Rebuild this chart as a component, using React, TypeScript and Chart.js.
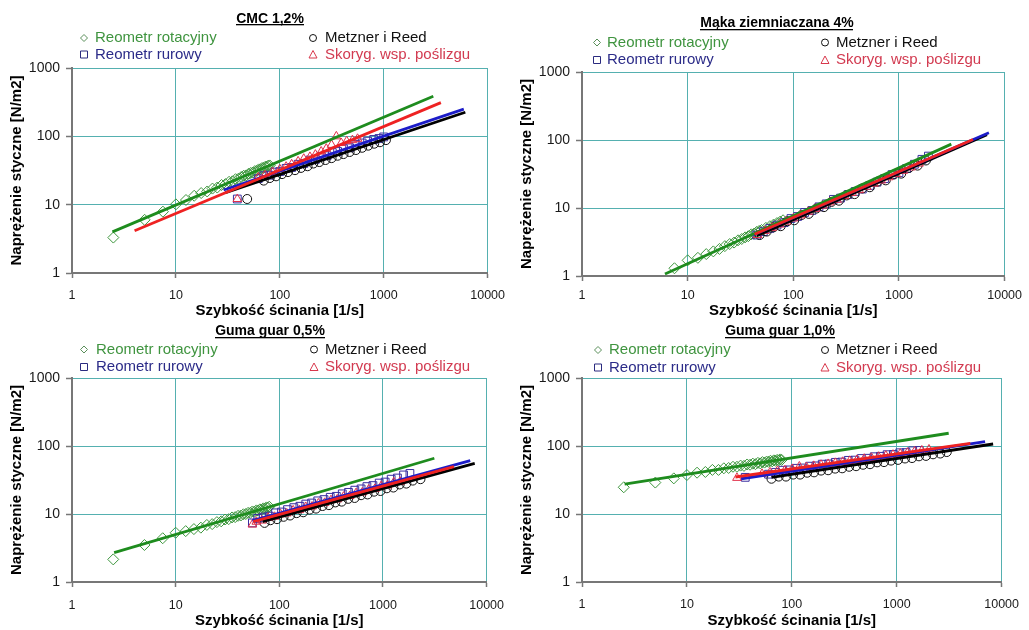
import React, { useEffect, useRef } from 'react';
import { Chart, registerables } from 'chart.js';

Chart.register(...registerables);

// ---------- shared text / ticks ----------
const xTickValues = [1, 10, 100, 1000, 10000];
const yTickValues = [1, 10, 100, 1000];
const seriesLabels = ['Reometr rotacyjny', 'Reometr rurowy', 'Metzner i Reed', 'Skoryg. wsp. poślizgu'];
const panelTitles = ['CMC 1,2%', 'Mąka ziemniaczana 4%', 'Guma guar 0,5%', 'Guma guar 1,0%'];
const xAxisTitle = 'Szybkość ścinania [1/s]';
const yAxisTitle = 'Naprężenie styczne [N/m2]';

// rotational rheometer shear rates (panels 1, 3, 4)
const rotRates = [2.5, 5, 7.5, 10, 12.5, 15, 17.5, 20, 22.5, 25, 27.5, 30, 32.5, 35, 37.5, 40, 42.5, 45, 47.5, 50, 52.5, 55, 57.5, 60, 62.5, 65, 67.5, 70, 72.5, 75, 77.5, 80];

// ---------- Panel 1: CMC 1,2% ----------
const cmcRotStress = [3.3, 6.0, 7.9, 10.1, 11.7, 13.5, 14.8, 15.6, 17.2, 17.8, 19.4, 20.0, 21.6, 22.0, 23.6, 24.0, 25.4, 26.5, 26.8, 28.3, 29.1, 29.5, 31.0, 31.2, 32.8, 33.0, 34.4, 34.5, 35.9, 36.0, 37.3, 37.5];
const cmcTubeRate = [39, 62, 70, 80, 90, 100, 115, 130, 150, 170, 195, 220, 250, 285, 320, 360, 410, 470, 540, 620, 700, 800, 900, 1000];
const cmcTubeStress = [12.1, 24, 26.5, 27, 30, 30.5, 34, 35, 39, 40, 45, 46, 51, 52, 58, 60, 66, 68, 76, 80, 85, 90, 93, 98];
const cmcMRRate = [48.5, 70, 80, 92, 105, 120, 140, 160, 185, 210, 240, 275, 315, 360, 410, 470, 540, 620, 710, 810, 920, 1050];
const cmcMRStress = [12.1, 22.5, 24.5, 26, 28, 30, 32, 34.5, 36.5, 40, 42, 45, 48, 52, 55, 59, 63, 68, 73, 78, 82, 88];
const cmcSlipRate = [39, 62, 72, 85, 100, 115, 130, 150, 170, 195, 220, 250, 280, 315, 350, 390, 440, 500, 560];
const cmcSlipStress = [12.1, 25, 27, 30, 33, 36, 39, 43, 47, 50, 54, 60, 66, 75, 100, 80, 85, 88, 92];
const cmcRotFitRate = [2.45, 3000];
const cmcRotFitStress = [4.0, 385];
const cmcTubeFitRate = [28.8, 5900];
const cmcTubeFitStress = [16.4, 250];
const cmcMRFitRate = [30, 6100];
const cmcMRFitStress = [15, 225];
const cmcSlipFitRate = [4, 3550];
const cmcSlipFitStress = [4.16, 311];

// ---------- Panel 2: Mąka ziemniaczana 4% ----------
const makaRotRate = [7.5, 10, 12.5, 15, 17.5, 20, 22.5, 25, 27.5, 30, 32.5, 35, 37.5, 40, 42.5, 45, 47.5, 50, 55, 60, 65, 70, 75, 80];
const makaRotStress = [1.3, 1.7, 1.85, 2.1, 2.3, 2.5, 2.75, 2.95, 3.1, 3.35, 3.5, 3.7, 3.85, 4.1, 4.2, 4.45, 4.6, 4.75, 5.1, 5.4, 5.7, 6.0, 6.3, 6.6];
const makaTubeRate = [45, 52, 60, 70, 82, 95, 110, 128, 150, 175, 205, 240, 280, 330, 385, 450, 530, 620, 730, 860, 1000, 1180, 1400, 1650, 1900];
const makaTubeStress = [4.0, 4.5, 5.0, 5.6, 6.1, 7.0, 7.5, 8.6, 9.2, 10.4, 11.5, 13.4, 14.0, 15.8, 17.5, 19.0, 21.5, 24, 27, 31, 33, 38, 44, 52, 58];
const makaMRRate = [48, 56, 65, 76, 88, 102, 120, 140, 165, 195, 230, 270, 320, 380, 450, 530, 630, 750, 890, 1050, 1250, 1500, 1800];
const makaMRStress = [4.0, 4.5, 5.2, 5.4, 6.4, 6.6, 7.9, 8.2, 9.8, 10.3, 12.3, 12.8, 15.3, 16.0, 19.4, 20.2, 24.5, 25.5, 31, 32, 39, 42, 50];
const makaSlipRate = [46, 54, 63, 74, 86, 100, 118, 138, 162, 190, 222, 260, 305, 360, 420, 495, 580, 680, 800, 940, 1100, 1300, 1550];
const makaSlipStress = [4.0, 4.6, 5.1, 5.7, 6.3, 7.0, 7.8, 8.8, 9.7, 10.8, 12.1, 13.2, 15.0, 16.6, 18.3, 20.5, 22.8, 25.4, 28.3, 31.5, 35.2, 39.5, 45];
const makaRotFitRate = [6.1, 3130];
const makaRotFitStress = [1.07, 87];
const makaTubeFitRate = [41.7, 7100];
const makaTubeFitStress = [4.0, 128];
const makaMRFitRate = [45, 6800];
const makaMRFitStress = [3.9, 120];
const makaSlipFitRate = [43, 5020];
const makaSlipFitStress = [4.1, 102];

// ---------- Panel 3: Guma guar 0,5% ----------
const guar05RotStress = [2.15, 3.5, 4.4, 5.3, 5.6, 6.0, 6.3, 6.9, 7.1, 7.6, 7.8, 8.3, 8.4, 8.9, 9.0, 9.4, 9.5, 9.9, 10.0, 10.4, 10.4, 10.9, 10.8, 11.3, 11.2, 11.7, 11.6, 12.1, 12.0, 12.5, 12.4, 12.8];
const guar05TubeRate = [55, 62, 70, 80, 92, 105, 120, 138, 158, 180, 205, 235, 270, 310, 355, 405, 465, 535, 615, 700, 800, 920, 1050, 1200, 1380, 1580, 1820];
const guar05TubeStress = [7.4, 8.6, 9.0, 9.3, 10.4, 10.7, 11.6, 12.4, 13.0, 14.0, 14.5, 15.6, 16.3, 17.6, 18.2, 19.8, 20.8, 22.4, 23.4, 25.3, 26.2, 28.5, 29.5, 32.5, 33.8, 37.5, 39.5];
const guar05MRRate = [72, 82, 95, 110, 127, 147, 170, 196, 226, 261, 301, 347, 400, 462, 533, 615, 710, 820, 946, 1090, 1260, 1450, 1680, 1940, 2300];
const guar05MRStress = [7.4, 8.1, 8.4, 9.1, 9.5, 10.3, 10.6, 11.6, 12.0, 13.1, 13.5, 14.8, 15.2, 16.7, 17.2, 18.9, 19.4, 21.3, 21.8, 23.9, 24.5, 27.2, 28.0, 31.0, 32.5];
const guar05SlipRate = [55, 60, 68, 78, 90, 103, 118, 136, 156, 180, 207, 238, 274, 315, 362, 416, 478, 550, 632, 727, 836, 961, 1105, 1270, 1460];
const guar05SlipStress = [7.0, 7.7, 8.0, 8.8, 9.1, 9.9, 10.2, 11.3, 11.4, 12.7, 12.9, 14.3, 14.6, 16.0, 16.4, 18.0, 18.4, 20.3, 20.8, 22.9, 23.4, 25.8, 26.3, 29.2, 29.8];
const guar05RotFitRate = [2.55, 3130];
const guar05RotFitStress = [2.7, 66];
const guar05TubeFitRate = [55, 6950];
const guar05TubeFitStress = [8.0, 61];
const guar05MRFitRate = [69, 7680];
const guar05MRFitStress = [7.7, 55.6];
const guar05SlipFitRate = [56, 4840];
const guar05SlipFitStress = [7.7, 49.6];

// ---------- Panel 4: Guma guar 1,0% ----------
const guar10RotStress = [24.7, 29, 33.4, 37.4, 40.5, 41.5, 44.5, 44.5, 47, 47.5, 49.5, 49.5, 51.5, 51, 53.5, 53, 55, 54, 56.5, 55.5, 58, 57, 59, 58.5, 60.5, 59.5, 61.5, 60.5, 62.5, 61.5, 63.5, 62.5];
const guar10TubeRate = [36, 60, 70, 82, 95, 110, 128, 148, 170, 195, 225, 260, 300, 345, 400, 460, 530, 610, 700, 810, 930, 1070, 1230, 1420, 1640];
const guar10TubeStress = [34.6, 38.5, 41, 44, 44.5, 47, 47.5, 50.5, 51, 54, 54.5, 57.5, 58, 61.5, 62, 65.5, 66, 69.5, 70.5, 74.5, 75, 79.5, 80, 85, 86];
const guar10MRRate = [64, 75, 88, 103, 120, 140, 163, 190, 222, 259, 302, 352, 410, 478, 557, 650, 757, 883, 1030, 1200, 1400, 1630, 1900, 2220, 2600, 3000];
const guar10MRStress = [33, 35.5, 35.5, 38, 38, 40.5, 41, 43.5, 44, 46.5, 47, 49.5, 50.5, 53, 54, 57.5, 58, 61, 62.5, 65.5, 66.5, 70.5, 71.5, 75.5, 77.5, 81.5];
const guar10SlipRate = [30, 52, 62, 73, 86, 101, 118, 138, 162, 190, 222, 260, 305, 357, 418, 490, 574, 672, 787, 922, 1080, 1265, 1480, 1735, 2030];
const guar10SlipStress = [34, 39, 41, 43, 44, 46, 50, 49, 51, 53, 54.5, 56.5, 58.5, 60.5, 62.5, 65, 67, 69.5, 72, 74.5, 77, 80, 83, 86, 89];
const guar10RotFitRate = [2.55, 3130];
const guar10RotFitStress = [27.6, 154];
const guar10TubeFitRate = [33, 6950];
const guar10TubeFitStress = [33, 116];
const guar10MRFitRate = [64, 8300];
const guar10MRFitStress = [34.6, 107];
const guar10SlipFitRate = [29, 5030];
const guar10SlipFitStress = [35, 109];

type XY = [number[], number[]];
interface PanelData {
  rot: XY; tube: XY; mr: XY; slip: XY;
  rotFit: XY; tubeFit: XY; mrFit: XY; slipFit: XY;
}

const PANELS: PanelData[] = [
  {
    rot: [rotRates, cmcRotStress], tube: [cmcTubeRate, cmcTubeStress], mr: [cmcMRRate, cmcMRStress], slip: [cmcSlipRate, cmcSlipStress],
    rotFit: [cmcRotFitRate, cmcRotFitStress], tubeFit: [cmcTubeFitRate, cmcTubeFitStress], mrFit: [cmcMRFitRate, cmcMRFitStress], slipFit: [cmcSlipFitRate, cmcSlipFitStress],
  },
  {
    rot: [makaRotRate, makaRotStress], tube: [makaTubeRate, makaTubeStress], mr: [makaMRRate, makaMRStress], slip: [makaSlipRate, makaSlipStress],
    rotFit: [makaRotFitRate, makaRotFitStress], tubeFit: [makaTubeFitRate, makaTubeFitStress], mrFit: [makaMRFitRate, makaMRFitStress], slipFit: [makaSlipFitRate, makaSlipFitStress],
  },
  {
    rot: [rotRates, guar05RotStress], tube: [guar05TubeRate, guar05TubeStress], mr: [guar05MRRate, guar05MRStress], slip: [guar05SlipRate, guar05SlipStress],
    rotFit: [guar05RotFitRate, guar05RotFitStress], tubeFit: [guar05TubeFitRate, guar05TubeFitStress], mrFit: [guar05MRFitRate, guar05MRFitStress], slipFit: [guar05SlipFitRate, guar05SlipFitStress],
  },
  {
    rot: [rotRates, guar10RotStress], tube: [guar10TubeRate, guar10TubeStress], mr: [guar10MRRate, guar10MRStress], slip: [guar10SlipRate, guar10SlipStress],
    rotFit: [guar10RotFitRate, guar10RotFitStress], tubeFit: [guar10TubeFitRate, guar10TubeFitStress], mrFit: [guar10MRFitRate, guar10MRFitStress], slipFit: [guar10SlipFitRate, guar10SlipFitStress],
  },
];

// ---------- layout / styles ----------
const FONT = '"Liberation Sans", Arial, Helvetica, sans-serif';
const GRID = '#55b0b0';
const AXIS = '#777777';

const GREEN_LINE = '#1e8c1e';
const BLUE_LINE = '#1c1cc8';
const BLACK_LINE = '#000000';
const RED_LINE = '#ee2222';
const GREEN_PT = '#3d963d';
const BLUE_PT = '#3a2fa0';
const BLACK_PT = '#111111';
const RED_PT = '#e0304a';

interface Geom {
  left: number; top: number; w: number; h: number;
  area: { l: number; r: number; t: number; b: number };
  tickPadX: number;
  titleX: number; titleY: number;
  markX: number[]; textX: number[]; rows: number[];
}

const GEOM: Geom[] = [
  { left: 0, top: 0, w: 515, h: 320, area: { l: 72, r: 495, t: 68, b: 273 }, tickPadX: 10, titleX: 270, titleY: 19, markX: [84, 313], textX: [95, 325], rows: [38, 54.5] },
  { left: 510, top: 0, w: 519, h: 320, area: { l: 72, r: 495, t: 72, b: 276 }, tickPadX: 7, titleX: 267, titleY: 23.5, markX: [87, 315], textX: [97, 326], rows: [42.5, 60] },
  { left: 0, top: 315, w: 515, h: 315, area: { l: 72, r: 495, t: 63, b: 267 }, tickPadX: 11, titleX: 270, titleY: 16.5, markX: [84, 314], textX: [96, 325], rows: [34.5, 52] },
  { left: 510, top: 315, w: 519, h: 315, area: { l: 72, r: 495, t: 63, b: 267 }, tickPadX: 10, titleX: 270, titleY: 16.5, markX: [88, 315], textX: [99, 326], rows: [35, 52.5] },
];

function toPoints(s: XY) {
  return s[0].map((x, i) => ({ x, y: s[1][i] }));
}

function lineDs(s: XY, color: string) {
  return {
    data: toPoints(s),
    showLine: true,
    pointRadius: 0,
    borderColor: color,
    backgroundColor: color,
    borderWidth: 2.8,
    fill: false,
  };
}

function pointDs(s: XY, style: string, color: string, radius: number) {
  return {
    data: toPoints(s),
    showLine: false,
    pointStyle: style,
    pointRadius: radius,
    pointBorderWidth: 1,
    borderColor: color,
    backgroundColor: 'rgba(0,0,0,0)',
  };
}

function drawMarker(ctx: CanvasRenderingContext2D, shape: string, x: number, y: number, color: string) {
  ctx.save();
  ctx.strokeStyle = color;
  ctx.lineWidth = 1;
  ctx.beginPath();
  if (shape === 'diamond') {
    ctx.moveTo(x, y - 3.5); ctx.lineTo(x + 3.5, y); ctx.lineTo(x, y + 3.5); ctx.lineTo(x - 3.5, y); ctx.closePath();
  } else if (shape === 'square') {
    ctx.rect(x - 3.5, y - 3.5, 7, 7);
  } else if (shape === 'circle') {
    ctx.arc(x, y, 3.5, 0, Math.PI * 2);
  } else {
    ctx.moveTo(x, y - 4); ctx.lineTo(x + 4, y + 3.5); ctx.lineTo(x - 4, y + 3.5); ctx.closePath();
  }
  ctx.stroke();
  ctx.restore();
}

function makeHeader(idx: number) {
  const g = GEOM[idx];
  const items = [
    { col: 0, row: 0, shape: 'diamond', mark: '#5a8f5a', text: seriesLabels[0], color: '#3f943f' },
    { col: 0, row: 1, shape: 'square', mark: '#2b2b80', text: seriesLabels[1], color: '#2b2b88' },
    { col: 1, row: 0, shape: 'circle', mark: '#111111', text: seriesLabels[2], color: '#111111' },
    { col: 1, row: 1, shape: 'triangle', mark: '#d8384c', text: seriesLabels[3], color: '#d23a50' },
  ];
  return {
    id: 'header' + idx,
    afterDraw(chart: any) {
      const ctx: CanvasRenderingContext2D = chart.ctx;
      ctx.save();
      const t = panelTitles[idx];
      ctx.font = `bold 14px ${FONT}`;
      ctx.fillStyle = '#000';
      ctx.textAlign = 'center';
      ctx.textBaseline = 'middle';
      ctx.fillText(t, g.titleX, g.titleY);
      const w = ctx.measureText(t).width;
      ctx.fillRect(Math.round(g.titleX - w / 2), Math.round(g.titleY + 5), Math.round(w), 1.3);

      ctx.font = `15px ${FONT}`;
      ctx.textAlign = 'left';
      for (const it of items) {
        const y = g.rows[it.row];
        drawMarker(ctx, it.shape, g.markX[it.col], y, it.mark);
        ctx.fillStyle = it.color;
        ctx.fillText(it.text, g.textX[it.col], y);
      }
      ctx.restore();
    },
  };
}

function Panel({ idx }: { idx: number }) {
  const ref = useRef<HTMLCanvasElement>(null);
  const g = GEOM[idx];
  useEffect(() => {
    const p = PANELS[idx];
    const canvas = ref.current;
    if (!canvas) return;
    const datasets: any[] = [
      lineDs(p.slipFit, RED_LINE),
      lineDs(p.rotFit, GREEN_LINE),
      lineDs(p.tubeFit, BLUE_LINE),
      lineDs(p.mrFit, BLACK_LINE),
      pointDs(p.slip, 'triangle', RED_PT, 5),
      pointDs(p.mr, 'circle', BLACK_PT, 4.5),
      pointDs(p.tube, 'rect', BLUE_PT, 5.5),
      pointDs(p.rot, 'rectRot', GREEN_PT, 5.5),
    ];
    const chart = new Chart(canvas, {
      type: 'scatter',
      data: { datasets },
      options: {
        responsive: false,
        animation: false,
        devicePixelRatio: 1,
        events: [],
        layout: { padding: { left: 0, right: g.w - g.area.r, top: g.area.t, bottom: 0 } },
        plugins: {
          legend: { display: false },
          tooltip: { enabled: false },
          title: { display: false },
        },
        scales: {
          x: {
            type: 'logarithmic',
            position: 'bottom',
            min: 1,
            max: 10000,
            afterBuildTicks: (s: any) => { s.ticks = xTickValues.map((v) => ({ value: v })); },
            afterFit: (s: any) => { s.height = g.h - g.area.b; },
            grid: { color: GRID, lineWidth: 1, drawTicks: true, tickLength: 5, tickColor: AXIS, tickWidth: 1.5 },
            border: { color: AXIS, width: 2 },
            ticks: {
              font: { size: 12.5, family: FONT },
              color: '#1a1a1a',
              padding: g.tickPadX,
              maxRotation: 0,
              autoSkip: false,
              callback: (v: any) => String(v),
            },
            title: {
              display: true,
              text: xAxisTitle,
              color: '#000',
              font: { size: 15, weight: 'bold', family: FONT },
              padding: { top: 0, bottom: 0 },
            },
          },
          y: {
            type: 'logarithmic',
            position: 'left',
            min: 1,
            max: 1000,
            afterBuildTicks: (s: any) => { s.ticks = yTickValues.map((v) => ({ value: v })); },
            afterFit: (s: any) => { s.width = g.area.l; },
            grid: { color: GRID, lineWidth: 1, drawTicks: true, tickLength: 6, tickColor: AXIS, tickWidth: 1.5 },
            border: { color: AXIS, width: 2 },
            ticks: {
              font: { size: 14, family: FONT },
              color: '#1a1a1a',
              padding: 6,
              autoSkip: false,
              callback: (v: any) => String(v),
            },
            title: {
              display: true,
              text: yAxisTitle,
              color: '#000',
              font: { size: 15, weight: 'bold', family: FONT },
              padding: { top: 8, bottom: 0 },
            },
          },
        },
      } as any,
      plugins: [makeHeader(idx)],
    });
    return () => chart.destroy();
  }, [idx]);
  return (
    <canvas
      ref={ref}
      width={g.w}
      height={g.h}
      style={{ position: 'absolute', left: g.left, top: g.top, width: g.w, height: g.h }}
    />
  );
}

export default function App() {
  return (
    <div style={{ position: 'absolute', left: 0, top: 0, width: 1029, height: 630, background: '#ffffff', overflow: 'hidden' }}>
      {[0, 1, 2, 3].map((i) => (
        <Panel key={i} idx={i} />
      ))}
    </div>
  );
}
